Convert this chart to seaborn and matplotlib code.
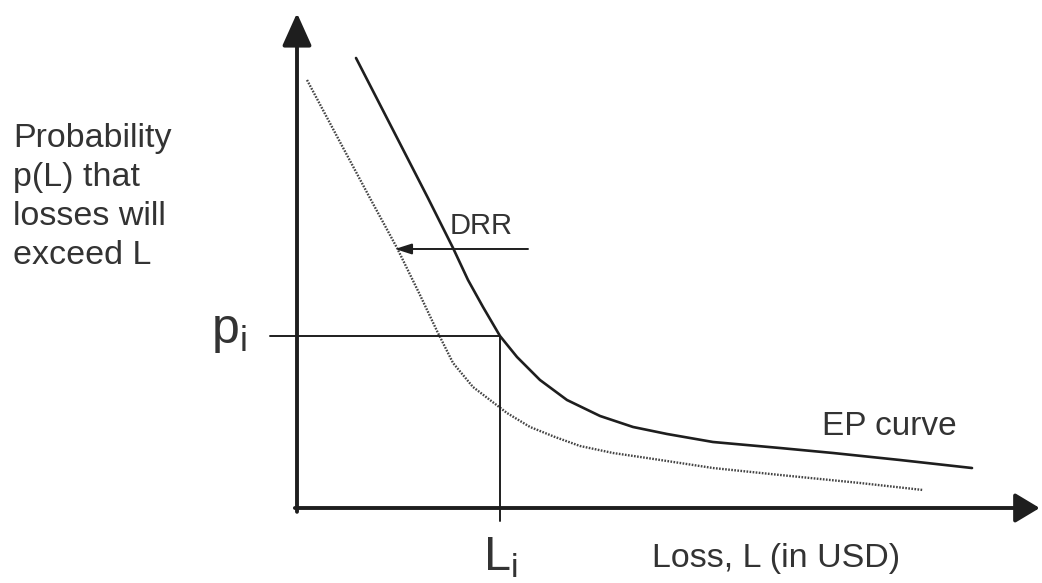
import matplotlib
matplotlib.use("Agg")
import matplotlib.pyplot as plt
import seaborn as sns
import pandas as pd

# ---- data (loss in arbitrary units, exceedance probability) ----
ep_loss = [8.43, 13.57, 18.71, 22.29, 24.43, 26.57, 29.0, 31.43, 34.71, 38.57,
           43.29, 48.0, 52.86, 59.43, 69.0, 76.57, 86.14, 96.43]
ep_prob = [0.9375, 0.7917, 0.6458, 0.5417, 0.475, 0.4188, 0.3583, 0.3146, 0.2667,
           0.225, 0.1917, 0.1688, 0.1542, 0.1375, 0.125, 0.1146, 0.1, 0.0833]

drr_loss = [1.43, 6.14, 10.57, 14.29, 17.57, 20.0, 22.29, 25.14, 27.57, 30.0,
            33.29, 36.86, 40.43, 45.14, 50.0, 54.71, 59.43, 69.0, 80.43, 89.43]
drr_prob = [0.8917, 0.7625, 0.6417, 0.5417, 0.4438, 0.3688, 0.3021, 0.2521, 0.225,
            0.1979, 0.1688, 0.1479, 0.1292, 0.1146, 0.1042, 0.0938, 0.0833, 0.0688,
            0.0521, 0.0375]

L_i = 29.0
p_i = 0.3583
drr_arrow_from = 33.0
drr_arrow_to = 14.0
drr_arrow_prob = 0.5396

ylabel_lines = ["Probability", "p(L) that", "losses will", "exceed L"]

sns.set_theme(style="white")
plt.rcParams["font.family"] = ["Liberation Sans", "DejaVu Sans"]

fig = plt.figure(figsize=(10.42, 5.83), dpi=100)
ax = fig.add_axes([0, 0, 1, 1])
ax.set_xlim(-297 / 7, 745 / 7)
ax.set_ylim(-75 / 480, 508 / 480)
ax.axis("off")

txt = "#333333"
ink = "#1e1e1e"

ep_df = pd.DataFrame({"loss": ep_loss, "prob": ep_prob})
drr_df = pd.DataFrame({"loss": drr_loss, "prob": drr_prob})

sns.lineplot(data=ep_df, x="loss", y="prob", sort=False, estimator=None,
             color=ink, lw=1.9, ax=ax)
sns.lineplot(data=drr_df, x="loss", y="prob", sort=False, estimator=None,
             color="#444444", lw=1.7, linestyle=(0, (0.7, 0.6)), ax=ax)

# axes with arrows
ax.annotate("", xy=(0, 1.031), xytext=(0, -0.008),
            arrowprops=dict(arrowstyle="-|>,head_length=1.0,head_width=0.45",
                            mutation_scale=20, lw=2.8, color=ink,
                            shrinkA=0, shrinkB=0))
ax.annotate("", xy=(106.1, 0), xytext=(-0.3, 0),
            arrowprops=dict(arrowstyle="-|>,head_length=0.75,head_width=0.45",
                            mutation_scale=20, lw=2.8, color=ink,
                            shrinkA=0, shrinkB=0))

# guide lines for p_i / L_i
ax.plot([-3.86, L_i], [p_i, p_i], color=ink, lw=1.4)
ax.plot([L_i, L_i], [p_i, -0.027], color=ink, lw=1.4)

# DRR arrow
ax.annotate("", xy=(drr_arrow_to, drr_arrow_prob), xytext=(drr_arrow_from, drr_arrow_prob),
            arrowprops=dict(arrowstyle="-|>,head_length=0.5,head_width=0.16",
                            mutation_scale=20, lw=1.4, color=ink,
                            shrinkA=0, shrinkB=0))

# texts (figure pixel positions)
def px(x, y):
    return x / 1042, 1 - y / 583

for i, line in enumerate(ylabel_lines):
    fig.text(*px(13, 147 + i * 39), line, fontsize=24.5, color=txt,
             ha="left", va="baseline")

fig.text(*px(450, 234), "DRR", fontsize=21, color=txt, ha="left", va="baseline")
fig.text(*px(822, 435), "EP curve", fontsize=24, color=txt, ha="left", va="baseline")
fig.text(*px(652, 567), "Loss, L (in USD)", fontsize=24.5, color=txt, ha="left", va="baseline")
fig.text(*px(211, 343), r"$\mathregular{p_i}$", fontsize=36, color=txt, ha="left", va="baseline")
fig.text(*px(483, 570), r"$\mathregular{L_i}$", fontsize=35, color=txt, ha="left", va="baseline")

fig.savefig("out.png", dpi=100, facecolor="white")
